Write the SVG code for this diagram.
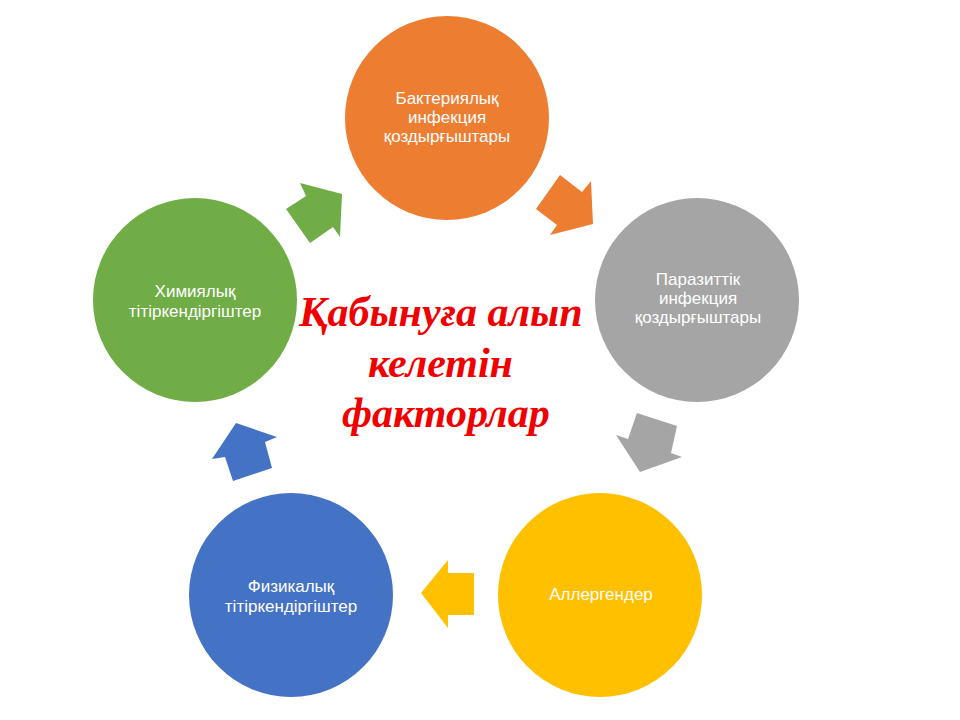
<svg xmlns="http://www.w3.org/2000/svg" width="960" height="720" viewBox="0 0 960 720">
<style>
.lbl{font-family:"Liberation Sans",Arial,sans-serif;font-size:17px;fill:#ffffff;text-anchor:middle}
.title{font-family:"Liberation Serif","Times New Roman",serif;font-size:42px;font-weight:bold;font-style:italic;fill:#f00000}
</style>
<rect width="960" height="720" fill="#ffffff"/>
<g id="connectors">
<polygon fill="#70ad47" points="300,183 342,194 340,237 333,227 310,243 286,209 306,196"/>
<polygon fill="#ed7d31" points="560,175 582,192 591,181 593,224 550,235 557,225 536,209"/>
<polygon fill="#a5a5a5" points="637,413 677,426 671,453 682,457 640,472 616,435 628,439"/>
<polygon fill="#ffc000" points="421,593 448,560 448,573 474,573 474,615 448,615 448,628"/>
<polygon fill="#4472c4" points="236,423 277,437 265,442 272,468 233,481 225,457 212,459"/>
</g>
<g id="node-bacterial">
<circle cx="447" cy="118" r="102" fill="#ed7d31"/>
<text class="lbl" x="447" y="104">Бактериялық</text>
<text class="lbl" x="447" y="123">инфекция</text>
<text class="lbl" x="447" y="142">қоздырғыштары</text>
</g>
<g id="node-parasitic">
<circle cx="697" cy="300" r="102" fill="#a5a5a5"/>
<text class="lbl" x="698" y="285">Паразиттік</text>
<text class="lbl" x="698" y="304">инфекция</text>
<text class="lbl" x="698" y="323">қоздырғыштары</text>
</g>
<g id="node-allergens">
<circle cx="600" cy="595" r="102" fill="#ffc000"/>
<text class="lbl" x="601" y="600">Аллергендер</text>
</g>
<g id="node-physical">
<circle cx="291" cy="595" r="102" fill="#4472c4"/>
<text class="lbl" x="291" y="592">Физикалық</text>
<text class="lbl" x="291" y="612">тітіркендіргіштер</text>
</g>
<g id="node-chemical">
<circle cx="195" cy="300" r="102" fill="#70ad47"/>
<text class="lbl" x="195" y="297">Химиялық</text>
<text class="lbl" x="195" y="317">тітіркендіргіштер</text>
</g>
<g id="title">
<text class="title" x="299" y="326">Қабынуға алып</text>
<text class="title" x="368" y="377">келетін</text>
<text class="title" x="342" y="427">факторлар</text>
</g>
</svg>
